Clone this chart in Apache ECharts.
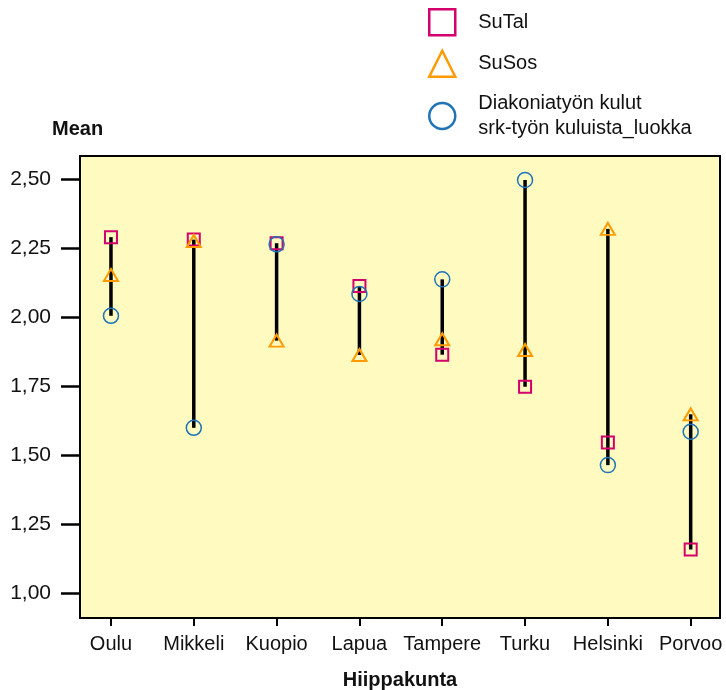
<!DOCTYPE html>
<html>
<head>
<meta charset="utf-8">
<script src="https://cdn.jsdelivr.net/npm/echarts@6/dist/echarts.min.js"></script>
<style>
html,body{margin:0;padding:0;background:#fff;}
#chart{width:726px;height:690px;}
</style>
</head>
<body>
<div id="chart"></div>
<script>
const categories = ['Oulu', 'Mikkeli', 'Kuopio', 'Lapua', 'Tampere', 'Turku', 'Helsinki', 'Porvoo'];
const suTal = [2.289, 2.28, 2.267, 2.112, 1.863, 1.747, 1.545, 1.157];
const suSos = [2.152, 2.275, 1.914, 1.862, 1.919, 1.88, 2.319, 1.647];
const diakonia = [2.004, 1.598, 2.263, 2.083, 2.136, 2.496, 1.463, 1.584];
const yTicks = [1.00, 1.25, 1.50, 1.75, 2.00, 2.25, 2.50];
const seriesNames = ['SuTal', 'SuSos', 'Diakoniatyön kulut\nsrk-työn kuluista_luokka'];

const idx = categories.map((c, i) => i);
const rangeData = idx.map(i => {
  const v = [suTal[i], suSos[i], diakonia[i]];
  return [i, Math.min(...v), Math.max(...v)];
});
const pts = arr => arr.map((v, i) => [i, v]);
const FONT = 'Liberation Sans, Arial, Helvetica, sans-serif';

const chart = echarts.init(document.getElementById('chart'));
chart.setOption({
  animation: false,
  textStyle: { fontFamily: FONT },
  title: {
    text: 'Mean', left: 47, top: 114,
    textStyle: { fontSize: 20, fontWeight: 'bold', color: '#111', fontFamily: FONT }
  },
  grid: {
    left: 80, right: 6, top: 156, bottom: 72,
    outerBoundsMode: 'none', containLabel: false,
    show: true, backgroundColor: '#fefac0', borderColor: '#000', borderWidth: 2
  },
  legend: {
    orient: 'vertical',
    left: 423, top: 3,
    itemWidth: 26, itemHeight: 26, itemGap: 13,
    itemStyle: { borderWidth: 2.5 },
    textStyle: { fontSize: 20, color: '#111', fontFamily: FONT, lineHeight: 25, padding: [0, 0, 0, 18] },
    data: seriesNames
  },
  xAxis: {
    type: 'value',
    min: -0.374, max: 7.354,
    name: 'Hiippakunta', nameLocation: 'middle', nameGap: 52,
    nameTextStyle: { fontSize: 20, fontWeight: 'bold', color: '#111', fontFamily: FONT },
    axisLine: { show: true, onZero: false, lineStyle: { color: '#000', width: 2 } },
    axisTick: { show: true, length: 8, lineStyle: { color: '#000', width: 2 }, customValues: idx },
    axisLabel: { customValues: idx, formatter: v => categories[Math.round(v)] || '', fontSize: 20, color: '#111', margin: 16, fontFamily: FONT },
    splitLine: { show: false }
  },
  yAxis: {
    type: 'value',
    min: 0.909, max: 2.583,
    axisLine: { show: true, onZero: false, lineStyle: { color: '#000', width: 2 } },
    axisTick: { show: true, length: 19, lineStyle: { color: '#000', width: 2.5 }, customValues: yTicks },
    axisLabel: { customValues: yTicks, formatter: v => v.toFixed(2).replace('.', ','), fontSize: 21, color: '#111', margin: 29, fontFamily: FONT },
    splitLine: { show: false }
  },
  series: [
    {
      type: 'custom',
      name: 'range',
      z: 1,
      data: rangeData,
      encode: { x: 0, y: [1, 2] },
      renderItem: function (params, api) {
        const p1 = api.coord([api.value(0), api.value(1)]);
        const p2 = api.coord([api.value(0), api.value(2)]);
        return { type: 'line', shape: { x1: p1[0], y1: p1[1], x2: p2[0], y2: p2[1] }, style: { stroke: '#000', lineWidth: 3.5 } };
      },
      silent: true
    },
    {
      type: 'scatter', name: seriesNames[0], z: 3,
      symbol: 'rect', symbolSize: 12,
      itemStyle: { color: 'transparent', borderColor: '#d4006b', borderWidth: 2, opacity: 1 },
      data: pts(suTal)
    },
    {
      type: 'scatter', name: seriesNames[1], z: 3,
      symbol: 'triangle', symbolSize: [14, 12],
      itemStyle: { color: 'transparent', borderColor: '#ff9a00', borderWidth: 2, opacity: 1 },
      data: pts(suSos)
    },
    {
      type: 'scatter', name: seriesNames[2], z: 3,
      symbol: 'circle', symbolSize: 15,
      itemStyle: { color: 'transparent', borderColor: '#1f73b7', borderWidth: 1.5, opacity: 1 },
      data: pts(diakonia)
    }
  ]
});
</script>
</body>
</html>
